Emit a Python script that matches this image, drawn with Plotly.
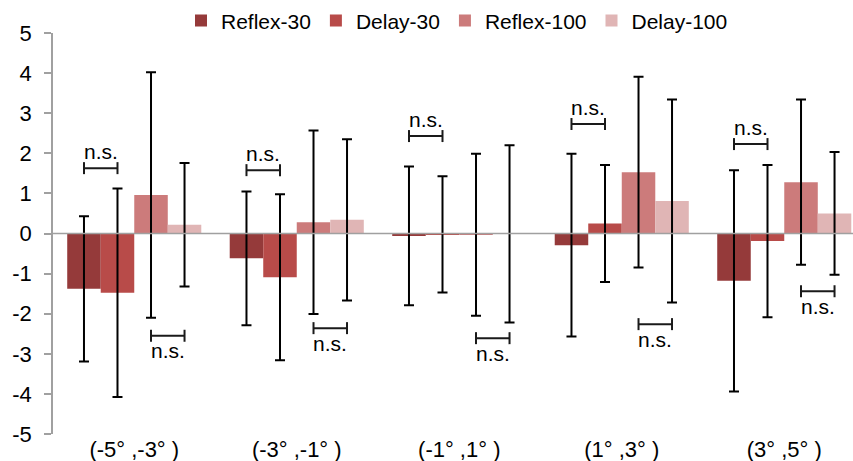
import plotly.graph_objects as go

# ---- data ----
categories = ["(-5° ,-3° )", "(-3° ,-1° )", "(-1° ,1° )", "(1° ,3° )", "(3° ,5° )"]
series_names = ["Reflex-30", "Delay-30", "Reflex-100", "Delay-100"]

reflex30 = [-1.38, -0.62, -0.06, -0.29, -1.18]
reflex30_err = [1.81, 1.67, 1.73, 2.28, 2.76]
delay30 = [-1.48, -1.09, -0.02, 0.25, -0.19]
delay30_err = [2.60, 2.07, 1.45, 1.46, 1.90]
reflex100 = [0.96, 0.28, -0.03, 1.53, 1.28]
reflex100_err = [3.06, 2.29, 2.02, 2.38, 2.06]
delay100 = [0.22, 0.34, -0.01, 0.81, 0.50]
delay100_err = [1.54, 2.01, 2.21, 2.53, 1.53]

# significance brackets: y level for upper (Reflex-30 vs Delay-30) and lower (Reflex-100 vs Delay-100)
upper_bracket_y = [1.63, 1.58, 2.43, 2.73, 2.23]
lower_bracket_y = [-2.55, -2.36, -2.61, -2.26, -1.44]
sig_label = "n.s."

y_ticks = [-5, -4, -3, -2, -1, 0, 1, 2, 3, 4, 5]
y_tick_labels = ["-5", "-4", "-3", "-2", "-1", "0", "1", "2", "3", "4", "5"]

# ---- style ----
colors = ["#953A3A", "#B84B49", "#CC7B7B", "#E0B5B5"]
font_family = "Liberation Sans, Arial, sans-serif"
axis_gray = "#A0A0A0"
bargap = 0.175

values = [reflex30, delay30, reflex100, delay100]
errors = [reflex30_err, delay30_err, reflex100_err, delay100_err]

fig = go.Figure()
for name, vals, errs, col in zip(series_names, values, errors, colors):
    fig.add_trace(go.Bar(
        name=name, x=categories, y=vals, marker_color=col,
        marker_line_width=0,
        error_y=dict(type="data", array=errs, symmetric=True,
                     color="#000000", thickness=2, width=5),
    ))

# bar centre offsets within a group
bw = (1 - bargap) / len(series_names)
offsets = [(k - (len(series_names) - 1) / 2) * bw for k in range(len(series_names))]

shapes = []
annotations = []

def bracket(gi, ka, kb, yv, above):
    xa = gi + offsets[ka]
    xb = gi + offsets[kb]
    line = dict(color="#1a1a1a", width=2)
    shapes.append(dict(type="line", xref="x", yref="y", x0=xa, x1=xb, y0=yv, y1=yv, line=line))
    for xx in (xa, xb):
        shapes.append(dict(type="line", xref="x", yref="y", ysizemode="pixel", yanchor=yv,
                           x0=xx, x1=xx, y0=-6, y1=6, line=line))
    annotations.append(dict(x=(xa + xb) / 2, y=yv, xref="x", yref="y", text=sig_label,
                            showarrow=False, yanchor="middle", xanchor="center",
                            yshift=17 if above else -15,
                            font=dict(size=21, color="#000000", family=font_family)))

for gi in range(len(categories)):
    bracket(gi, 0, 1, upper_bracket_y[gi], True)
    bracket(gi, 2, 3, lower_bracket_y[gi], False)

# zero line above bars
shapes.append(dict(type="line", xref="paper", yref="y", x0=0, x1=1, y0=0, y1=0,
                   line=dict(color=axis_gray, width=1.5), layer="above"))

fig.update_layout(
    width=853, height=461,
    margin=dict(l=53, r=0, t=33, b=27),
    paper_bgcolor="white", plot_bgcolor="white",
    barmode="group", bargap=bargap, bargroupgap=0,
    font=dict(family=font_family, size=21, color="#000000"),
    shapes=shapes, annotations=annotations,
    legend=dict(orientation="h", x=0.505, xanchor="center", y=1.03, yanchor="middle",
                font=dict(size=21), bgcolor="rgba(0,0,0,0)", traceorder="normal",
                itemclick=False),
    xaxis=dict(range=[-0.5, 4.423], showline=False, showgrid=False, zeroline=False,
               ticks="", tickfont=dict(size=22)),
    yaxis=dict(range=[-5, 5], tickvals=y_ticks, ticktext=y_tick_labels,
               showgrid=False, zeroline=False,
               showline=True, linecolor=axis_gray, linewidth=1.5,
               ticks="outside", ticklen=7, tickwidth=1.5, tickcolor=axis_gray,
               ticklabelstandoff=8, tickfont=dict(size=22)),
)

fig.write_html("out.html")
